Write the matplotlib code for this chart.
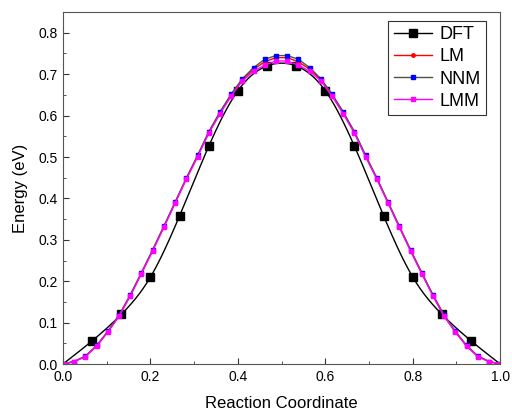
import numpy as np
import matplotlib
matplotlib.use('Agg')
import matplotlib.pyplot as plt
from matplotlib.ticker import MultipleLocator

plt.rcParams['font.family'] = ['Liberation Sans', 'DejaVu Sans']

# DFT points (16 images along the path)
dft_x = np.linspace(0, 1, 16)
dft_e = [0.0, 0.056, 0.120, 0.210, 0.358, 0.526, 0.660, 0.720,
         0.720, 0.660, 0.526, 0.358, 0.210, 0.120, 0.056, 0.0]

model_x = np.linspace(0, 1, 40)
lmm_half = [0.0, 0.006, 0.018, 0.043, 0.077, 0.115, 0.164, 0.218, 0.273, 0.330,
            0.388, 0.446, 0.500, 0.557, 0.604, 0.647, 0.684, 0.707, 0.722, 0.732]
nnm_half = [0.0, 0.006, 0.019, 0.045, 0.079, 0.118, 0.167, 0.221, 0.276, 0.333,
            0.391, 0.449, 0.504, 0.561, 0.609, 0.652, 0.689, 0.716, 0.736, 0.745]
lm_half = [0.0, 0.006, 0.019, 0.044, 0.078, 0.117, 0.166, 0.220, 0.275, 0.332,
           0.390, 0.448, 0.502, 0.559, 0.607, 0.650, 0.687, 0.712, 0.730, 0.740]
lmm_e = lmm_half + lmm_half[::-1]
nnm_e = nnm_half + nnm_half[::-1]
lm_e = lm_half + lm_half[::-1]


def natural_spline(x, y, n=400):
    # smooth line through the DFT points, like Origin's spline connector
    x = np.asarray(x, float)
    y = np.asarray(y, float)
    m = len(x)
    h = np.diff(x)
    A = np.zeros((m, m))
    b = np.zeros(m)
    A[0, 0] = A[-1, -1] = 1
    for i in range(1, m - 1):
        A[i, i - 1] = h[i - 1]
        A[i, i] = 2 * (h[i - 1] + h[i])
        A[i, i + 1] = h[i]
        b[i] = 6 * ((y[i + 1] - y[i]) / h[i] - (y[i] - y[i - 1]) / h[i - 1])
    M = np.linalg.solve(A, b)
    xs = np.linspace(x[0], x[-1], n)
    idx = np.clip(np.searchsorted(x, xs) - 1, 0, m - 2)
    x0, x1 = x[idx], x[idx + 1]
    hh = x1 - x0
    ys = (M[idx] * (x1 - xs) ** 3 / (6 * hh) + M[idx + 1] * (xs - x0) ** 3 / (6 * hh)
          + (y[idx] / hh - M[idx] * hh / 6) * (x1 - xs)
          + (y[idx + 1] / hh - M[idx + 1] * hh / 6) * (xs - x0))
    return xs, ys


fig = plt.figure(figsize=(5.12, 4.17), dpi=100)
ax = fig.add_axes([0.123, 0.127, 0.854, 0.844])

sx, sy = natural_spline(dft_x, dft_e)
ax.plot(sx, sy, color='black', lw=1.0)
ax.plot(dft_x[1:-1], dft_e[1:-1], ls='none', marker='s', ms=6, color='black')
ax.plot([], [], color='black', lw=1.0, marker='s', ms=6, label='DFT')

ax.plot(model_x, lm_e, color='red', lw=1.0, marker='o', ms=2.5, label='LM')
ax.plot(model_x, nnm_e, color='#505050', lw=1.0, marker='s', ms=3,
        mfc='blue', mec='blue', label='NNM')
ax.plot(model_x, lmm_e, color='magenta', lw=1.0, marker='s', ms=3, label='LMM')

ax.set_xlim(0, 1)
ax.set_ylim(0, 0.85)
ax.xaxis.set_major_locator(MultipleLocator(0.2))
ax.xaxis.set_minor_locator(MultipleLocator(0.1))
ax.yaxis.set_major_locator(MultipleLocator(0.1))
ax.yaxis.set_minor_locator(MultipleLocator(0.05))
ax.tick_params(which='both', direction='in', top=False, right=False,
               labelsize=10, colors='#333333', labelcolor='black')
ax.tick_params(which='major', length=4, pad=4)
ax.tick_params(which='minor', length=2)
for sp in ax.spines.values():
    sp.set_color('#555555')
ax.set_xlabel('Reaction Coordinate', fontsize=12, labelpad=9)
ax.set_ylabel('Energy (eV)', fontsize=12, labelpad=7)

leg = ax.legend(loc='upper right', bbox_to_anchor=(0.975, 0.985), fontsize=13,
                fancybox=False, framealpha=1, edgecolor='#333333',
                handlelength=2.1, borderpad=0.3, labelspacing=0.28,
                handletextpad=0.4, borderaxespad=0.2)
leg.get_frame().set_linewidth(0.8)

fig.savefig('out.png', dpi=100)
